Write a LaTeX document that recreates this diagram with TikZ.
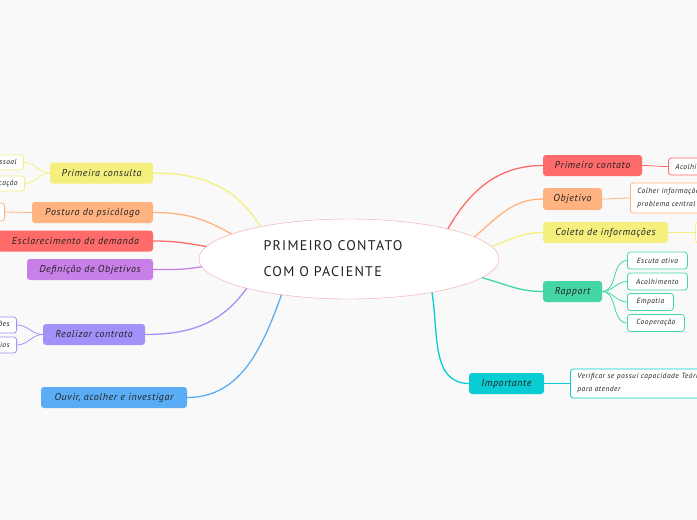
\documentclass[tikz,border=0pt]{standalone}
\usepackage{fontspec}
\setmainfont{PT Sans}
\newfontfamily\mfont[LetterSpace=6]{PT Sans}
\newfontfamily\cfont[LetterSpace=9]{PT Sans}
\usetikzlibrary{shapes.geometric}
\definecolor{bgc}{HTML}{F9F9F9}
\definecolor{txt}{HTML}{222222}
\definecolor{cyel}{HTML}{F5F07E}
\definecolor{cora}{HTML}{FFB380}
\definecolor{cred}{HTML}{FF6B6B}
\definecolor{cpur}{HTML}{C880E8}
\definecolor{clil}{HTML}{A390F8}
\definecolor{cblu}{HTML}{5AADF5}
\definecolor{cgre}{HTML}{45D6A5}
\definecolor{ctea}{HTML}{0BCBD3}
\definecolor{cellb}{HTML}{F5A5A5}
\begin{document}
\begin{tikzpicture}[x=1pt,y=-1pt,
  mbox/.style={rounded corners=3pt, minimum height=21, inner sep=0pt, text=txt,
    font=\mfont\itshape\fontsize{10}{12}\selectfont},
  cbox/.style={draw=#1, fill=white, rounded corners=3pt, line width=0.8pt, minimum height=17,
    inner xsep=7pt, inner ysep=0pt, text=txt, font=\mfont\itshape\fontsize{7.5}{13}\selectfont},
  con/.style={line width=1.3pt, draw=#1},
  scon/.style={line width=0.8pt, draw=#1}]
\fill[bgc] (0,0) rectangle (697,520);
\useasboundingbox (0,0) rectangle (697,520);
\clip (0,0) rectangle (697,520);
% central
\node[ellipse, draw=cellb, fill=white, minimum width=300, minimum height=80, inner sep=0pt] (c) at (349,259) {};
\node[font=\cfont\fontsize{14}{26}\selectfont, align=left, text=txt] (ct) at (333,259) {PRIMEIRO CONTATO\\COM O PACIENTE};
% left main
\node[mbox, fill=cyel, minimum width=103] (pcons) at (101.5,173) {Primeira consulta};
\node[mbox, fill=cora, minimum width=121] (post) at (92.5,212.5) {Postura do psicólogo};
\node[mbox, fill=cred, minimum width=155] (escl) at (75.5,241) {Esclarecimento da demanda};
\node[mbox, fill=cpur, minimum width=126] (defi) at (90,269.5) {Definição de Objetivos};
\node[mbox, fill=clil, minimum width=102] (real) at (94,334.5) {Realizar contrato};
\node[mbox, fill=cblu, minimum width=146] (ouv) at (114,397.5) {Ouvir, acolher e investigar};
% right main
\node[mbox, fill=cred, minimum width=99] (pcon) at (592.5,165.5) {Primeiro contato};
\node[mbox, fill=cora, minimum width=59, minimum height=22] (obj) at (572.5,199) {Objetivo};
\node[mbox, fill=cyel, minimum width=125] (col) at (605.5,232.5) {Coleta de informações};
\node[mbox, fill=cgre, minimum width=59] (rap) at (572.5,291.5) {Rapport};
\node[mbox, fill=ctea, minimum width=75] (imp) at (506.5,383.5) {Importante};
% left children
\node[cbox=cyel, anchor=east, minimum height=15] (pc1) at (24,162.5) {Apresentação pessoal};
\node[cbox=cyel, anchor=east, minimum height=15] (pc2) at (25,183.5) {Identificação};
\node[cbox=cora, anchor=east, minimum height=18] (po1) at (5,212) {Ética profissional};
\node[cbox=clil, anchor=east, minimum height=16] (re1) at (17,325) {Valores e condições};
\node[cbox=clil, anchor=east, minimum height=16] (re2) at (17,345) {Honorários};
% right children
\node[cbox=cred, anchor=west] (pco1) at (668,166.5) {Acolhimento};
\node[cbox=cora, anchor=west, minimum height=30, align=left] (ob1) at (630,198) {Colher informações sobre o\\problema central};
\node[cbox=cyel, anchor=west, minimum height=21] (co1) at (695,232.5) {Roteiro};
\node[cbox=cgre, anchor=west, minimum width=60] (ra1) at (627,260.5) {Escuta ativa};
\node[cbox=cgre, anchor=west, minimum width=60] (ra2) at (627,281.5) {Acolhimento};
\node[cbox=cgre, anchor=west, minimum width=46] (ra3) at (627,302) {Empatia};
\node[cbox=cgre, anchor=west, minimum width=57] (ra4) at (627,323) {Cooperação};
\node[cbox=ctea, anchor=west, minimum height=29, align=left] (im1) at (570,383.5) {Verificar se possui capacidade Teórica\\para atender};
% connectors central
\draw[con=cyel] (pcons.east) to[out=0,in=120] (c.160);
\draw[con=cora] (post.east) to[out=0,in=150] (c.168);
\draw[con=cred] (escl.east) to[out=0,in=170] (c.175);
\draw[con=cpur] (defi.east) to[out=0,in=190] (c.183.5);
\draw[con=clil] (real.east) to[out=0,in=235] (c.196);
\draw[con=cblu] (ouv.east) to[out=0,in=250] (c.208);
\draw[con=cred] (c.17) to[out=60,in=180] (pcon.west);
\draw[con=cora] (c.10.6) to[out=40,in=180] (obj.west);
\draw[con=cyel] (c.5.5) to[out=20,in=180] (col.west);
\draw[con=cgre] (c.352.7) to[out=-15,in=180] (rap.west);
\draw[con=ctea] (c.338) to[out=-80,in=180] (imp.west);
% connectors children
\draw[scon=cyel] (pcons.west) to[out=180,in=0] (pc1.east);
\draw[scon=cyel] (pcons.west) to[out=180,in=0] (pc2.east);
\draw[scon=cora] (post.west) -- (po1.east);
\draw[scon=clil] (real.west) to[out=180,in=0] (re1.east);
\draw[scon=clil] (real.west) to[out=180,in=0] (re2.east);
\draw[scon=cred] (pcon.east) to[out=0,in=180] (pco1.west);
\draw[scon=cora] (obj.east) to[out=0,in=180] (ob1.west);
\draw[scon=cyel] (col.east) -- (co1.west);
\draw[scon=cgre] (rap.east) to[out=0,in=180] (ra1.west);
\draw[scon=cgre] (rap.east) to[out=0,in=180] (ra2.west);
\draw[scon=cgre] (rap.east) to[out=0,in=180] (ra3.west);
\draw[scon=cgre] (rap.east) to[out=0,in=180] (ra4.west);
\draw[scon=ctea] (imp.east) -- (im1.west);
\end{tikzpicture}
\end{document}
